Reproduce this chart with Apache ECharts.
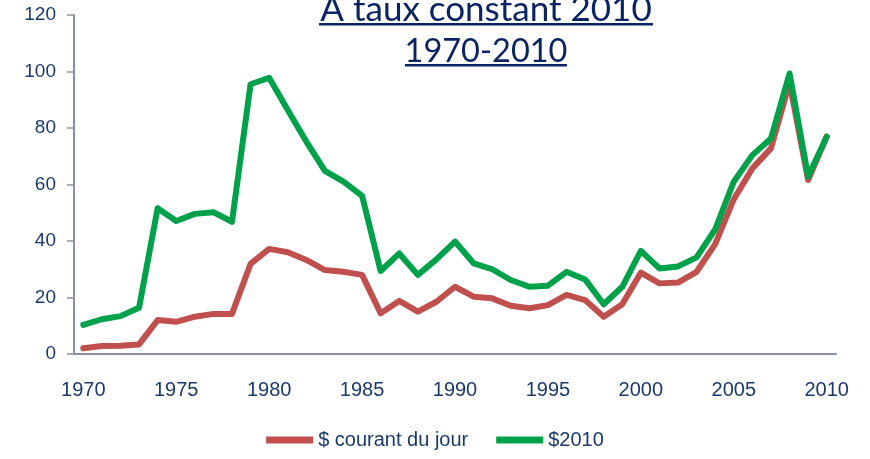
<!DOCTYPE html>
<html>
<head>
<meta charset="utf-8">
<script src="https://cdn.jsdelivr.net/npm/echarts@6/dist/echarts.min.js"></script>
<style>
  html, body { margin: 0; padding: 0; background: #fff; }
  #main { width: 870px; height: 459px; }
</style>
</head>
<body>
<div id="main"></div>
<script>
// données
var years = ['1970', '1971', '1972', '1973', '1974', '1975', '1976', '1977', '1978', '1979',
  '1980', '1981', '1982', '1983', '1984', '1985', '1986', '1987', '1988', '1989',
  '1990', '1991', '1992', '1993', '1994', '1995', '1996', '1997', '1998', '1999',
  '2000', '2001', '2002', '2003', '2004', '2005', '2006', '2007', '2008', '2009', '2010'];

var courantDuJour = [2.0, 2.8, 2.9, 3.4, 12.0, 11.4, 13.2, 14.2, 14.2, 31.9,
  37.2, 36.0, 33.3, 29.7, 29.1, 28.0, 14.4, 18.8, 15.0, 18.5,
  23.8, 20.3, 19.7, 17.1, 16.2, 17.3, 20.9, 19.1, 13.2, 17.6,
  28.8, 25.0, 25.3, 29.1, 38.9, 54.8, 65.7, 72.8, 96.0, 61.6, 77.0];

var dollars2010 = [10.3, 12.3, 13.4, 16.4, 51.6, 47.1, 49.6, 50.2, 46.8, 95.5,
  97.8, 86.4, 75.2, 64.8, 61.0, 56.0, 29.4, 35.6, 28.0, 33.5,
  39.8, 32.1, 30.0, 26.2, 23.8, 24.2, 29.1, 26.4, 17.6, 23.8,
  36.5, 30.3, 31.0, 34.2, 44.1, 61.0, 70.4, 76.3, 99.3, 62.8, 76.9];

var titleLines = ['A taux constant 2010', '1970-2010'];
var seriesNames = ['$ courant du jour', '$2010'];

var navy = '#1B3A6B';
var titleNavy = '#0A2463';
var axisGrey = '#8C8FA8';

var myChart = echarts.init(document.getElementById('main'));

var option = {
  backgroundColor: '#fff',
  animation: false,
  grid: { left: 74, right: 34, top: 15, bottom: 105 },
  // titre souligné
  graphic: [
    {
      type: 'text', x: 486, y: -8,
      style: { text: titleLines[0], font: '35px Lato', fill: titleNavy, align: 'center', verticalAlign: 'top' }
    },
    { type: 'rect', shape: { x: 319, y: 23, width: 334, height: 2.5 }, style: { fill: titleNavy } },
    {
      type: 'text', x: 486, y: 35,
      style: { text: titleLines[1], font: '32.5px Lato', fill: titleNavy, align: 'center', verticalAlign: 'top' }
    },
    { type: 'rect', shape: { x: 405, y: 64, width: 162, height: 2.5 }, style: { fill: titleNavy } }
  ],
  legend: {
    bottom: 4,
    left: 'center',
    icon: 'rect',
    itemWidth: 47,
    itemHeight: 7,
    itemGap: 28,
    textStyle: { color: navy, fontSize: 20, fontFamily: 'Liberation Sans' },
    data: seriesNames
  },
  xAxis: {
    type: 'category',
    boundaryGap: true,
    data: years,
    axisLine: { lineStyle: { color: axisGrey, width: 2 } },
    axisTick: { interval: 0, length: 7, lineStyle: { color: axisGrey, width: 1.5 } },
    axisLabel: { interval: 4, margin: 26, color: navy, fontSize: 20, fontFamily: 'Liberation Sans' },
    splitLine: { show: false }
  },
  yAxis: {
    type: 'value',
    min: 0,
    max: 120,
    interval: 20,
    axisLine: { show: true, lineStyle: { color: axisGrey, width: 2 } },
    axisTick: { show: true, length: 7, lineStyle: { color: axisGrey, width: 1.5 } },
    axisLabel: { margin: 18, color: navy, fontSize: 19, fontFamily: 'Liberation Sans' },
    splitLine: { show: false }
  },
  series: [
    {
      name: seriesNames[0],
      type: 'line',
      data: courantDuJour,
      symbol: 'none',
      color: '#C0504D',
      lineStyle: { width: 6, color: '#C0504D', join: 'round', cap: 'round' }
    },
    {
      name: seriesNames[1],
      type: 'line',
      data: dollars2010,
      symbol: 'none',
      color: '#00A14B',
      lineStyle: { width: 6, color: '#00A14B', join: 'round', cap: 'round' }
    }
  ]
};

myChart.setOption(option);
</script>
</body>
</html>
